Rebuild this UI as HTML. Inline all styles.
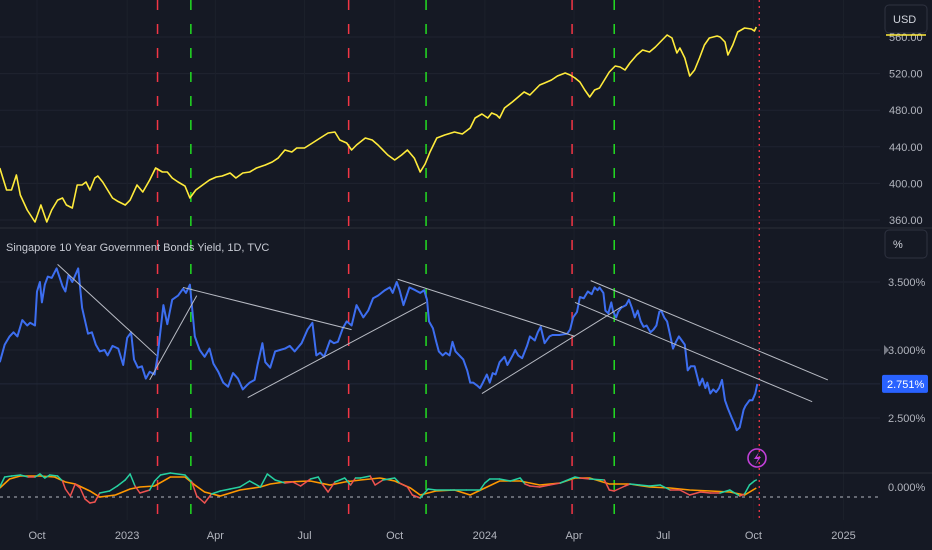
<!DOCTYPE html>
<html><head><meta charset="utf-8"><style>
html,body{margin:0;padding:0;background:#151924;}
svg{display:block;font-family:"Liberation Sans",sans-serif;}
</style></head><body>
<svg id="chart" width="932" height="550" viewBox="0 0 932 550" xmlns="http://www.w3.org/2000/svg">
<rect x="0" y="0" width="932" height="550" fill="#151924"/>
<g id="grid"></g>
<g id="vlines"></g>
<g id="series"></g>
<g id="axes"></g>
<text x="6" y="251" font-size="11" fill="#c8cbd4">Singapore 10 Year Government Bonds Yield, 1D, TVC</text>
<g><rect x="885" y="5" width="42" height="28" rx="4" fill="#151924" stroke="#2e3240"/><text x="893" y="23" font-size="11" fill="#d1d4dc">USD</text></g>
<g><rect x="885" y="230" width="42" height="28" rx="4" fill="#151924" stroke="#2e3240"/><text x="893" y="248" font-size="11" fill="#d1d4dc">%</text></g>
<g><circle cx="757" cy="458" r="9" fill="none" stroke="#c040d8" stroke-width="1.6"/><path d="M759 452 L754 459 L758 459 L755 465 L761 457 L757 457 Z" fill="#c040d8"/></g>
</svg>
<script>
// ---- price (upper pane) ----
const priceDays=[-38,-31,-26,-21,-17,-10,-2,4,10,15,21,26,30,36,41,46,50,54,59,62,67,72,77,82,90,95,102,108,115,121,128,133,138,144,151,156,162,169,176,183,189,197,203,210,217,224,233,240,246,253,260,265,273,281,289,297,304,309,316,321,326,335,342,348,358,365,372,378,385,391,396,401,408,416,426,434,442,447,454,460,464,469,472,477,485,491,497,503,508,513,518,525,531,539,544,549,554,559,564,569,574,579,584,590,595,600,605,612,618,625,631,638,643,648,653,656,661,666,671,676,681,686,694,697,702,705,710,715,722,729,732,734];
const priceValues=[416.8,392.8,392.8,409.2,387.3,370.9,357.8,376.4,357.8,370.9,381.8,384.0,376.4,373.1,398.2,398.2,401.5,392.8,405.9,408.1,401.5,392.8,384.0,380.7,376.4,381.8,398.2,390.6,403.7,416.8,412.5,412.5,405.9,401.5,397.1,384.0,392.8,398.2,403.7,407.0,408.1,411.4,405.9,411.4,412.5,416.8,420.1,423.4,427.7,436.5,434.3,438.7,438.7,444.1,449.6,455.1,456.2,447.4,444.1,436.5,442.0,449.6,447.4,442.0,431.0,425.6,431.0,436.5,427.7,412.5,421.2,434.3,449.6,452.9,456.2,454.0,460.5,471.5,475.8,471.5,476.9,474.7,471.5,482.4,489.0,494.4,499.9,496.6,502.1,507.5,509.7,513.0,517.4,520.7,518.5,515.2,510.8,502.1,494.4,502.1,504.3,513.0,521.7,528.3,527.2,523.9,531.6,540.3,545.8,543.6,549.1,556.7,562.2,558.9,542.5,548.0,537.0,517.4,523.9,537.0,551.3,558.9,561.1,560.0,554.5,540.3,551.3,565.5,569.8,568.7,566.6,570.9];
const priceTicks=[560,520,480,440,400,360];
// ---- yield (middle pane) ----
const yieldDays=[-38,-33,-28,-24,-20,-15,-10,-7,-2,0,3,5,8,11,15,20,26,29,32,36,42,46,52,56,60,64,69,72,77,83,88,92,96,99,103,107,111,115,120,123,129,133,138,144,149,152,156,161,166,171,176,180,185,190,195,200,205,210,214,217,222,225,230,233,238,243,248,253,258,263,270,276,281,285,289,293,299,303,307,312,316,321,326,333,338,343,348,355,360,363,367,370,374,380,386,391,395,398,400,404,407,410,414,417,421,424,427,431,435,439,442,445,449,452,455,459,462,465,468,472,477,480,486,488,491,495,500,503,508,511,514,518,523,526,530,533,541,544,547,551,554,558,562,566,569,572,574,578,580,583,586,588,591,593,596,601,604,607,610,613,616,619,622,626,629,632,635,637,640,643,646,649,652,655,658,661,664,667,671,676,679,682,684,687,690,693,696,699,702,705,709,712,714,717,721,723,727,730,733,735];
const yieldValues=[2.91,3.04,3.10,3.13,3.10,3.22,3.18,3.20,3.18,3.43,3.50,3.35,3.48,3.54,3.53,3.60,3.47,3.43,3.55,3.50,3.60,3.31,3.12,3.13,3.04,2.99,3.00,2.96,3.03,3.01,2.89,3.09,3.13,2.93,2.87,2.88,2.79,2.84,2.82,2.95,3.33,3.19,3.37,3.40,3.45,3.42,3.48,3.10,3.00,2.95,3.01,2.90,2.84,2.76,2.73,2.83,2.79,2.71,2.74,2.76,2.78,2.89,3.05,2.91,2.87,2.99,3.00,3.01,3.03,2.99,3.05,3.15,3.20,2.96,2.98,2.95,3.07,3.05,3.06,3.16,3.21,3.18,3.33,3.24,3.29,3.38,3.40,3.44,3.46,3.42,3.50,3.44,3.33,3.46,3.44,3.42,3.44,3.37,3.21,3.16,3.07,2.99,2.96,2.98,2.96,3.06,2.99,2.96,2.93,2.85,2.76,2.76,2.74,2.72,2.76,2.82,2.76,2.83,2.82,2.91,2.95,2.89,2.97,3.00,2.96,2.94,3.03,3.10,3.07,3.13,3.17,3.05,3.10,3.11,3.11,3.11,3.12,3.15,3.24,3.28,3.39,3.38,3.43,3.41,3.46,3.44,3.46,3.42,3.29,3.27,3.35,3.28,3.24,3.28,3.31,3.33,3.37,3.31,3.24,3.29,3.21,3.17,3.18,3.13,3.15,3.18,3.28,3.29,3.24,3.21,3.11,3.01,3.06,3.10,3.07,3.04,2.85,2.88,2.88,2.74,2.79,2.72,2.76,2.68,2.71,2.69,2.72,2.78,2.63,2.57,2.50,2.45,2.41,2.43,2.56,2.59,2.63,2.63,2.68,2.75];
const yieldTicks=[3.5,3.0,2.5];
const yieldTickLabels=["3.500%","3.000%","2.500%"];
const lastYield=2.751;
// trend lines: [startDay, startYield, endDay, endYield]
const trendStartDays=[21,115,149,215,368,454,565,549];
const trendStartVals=[3.63,2.78,3.46,2.65,3.52,2.68,3.51,3.35];
const trendEndDays=[122,163,321,397,549,597,807,791];
const trendEndVals=[2.96,3.40,3.15,3.35,3.10,3.32,2.78,2.62];
// ---- oscillator (lower pane) ----
const fastDays=[-38,-33,-26,-17,-9,-2,3,8,13,21,26,29,34,39,44,49,54,59,64,74,82,90,95,100,105,115,120,126,136,151,158,163,171,178,187,197,207,217,228,235,243,253,261,269,279,287,291,297,304,314,320,325,330,340,345,353,365,370,378,383,391,399,407,422,438,452,457,462,472,483,493,498,503,513,523,534,544,549,554,564,579,584,589,600,605,615,625,636,646,656,666,677,687,697,707,717,722,727,732,734];
const fastValues=[0,1.0,1.1,1.2,1.0,1.0,1.3,0.9,1.2,1.1,0.6,-0.2,-0.9,0.3,-0.1,-1.2,-1.6,-1.5,-0.6,-0.4,0.1,0.7,1.3,0.1,-0.6,-0.3,0.6,1.2,1.4,1.2,0.5,-0.9,-1.6,-0.7,-0.4,-0.2,0,0.6,0,1.3,0.7,0.4,0.5,0.1,0.8,1.0,0.3,-0.5,0.5,0.9,0.2,0.9,0.9,1.1,0.2,0.7,0.9,0.4,0,-0.8,-1.1,-0.2,-0.3,-0.3,-0.3,-0.3,0.4,0.8,0.8,0.6,0.9,0.3,0.1,0,0.2,0.4,0.8,1.0,0.9,0.8,0.7,-0.3,-0.4,0.1,0.3,0.2,0.1,0.2,-0.3,-0.3,-0.8,-0.5,-0.6,-0.6,-0.3,-0.9,-0.7,0.2,0.6,0.7];
const slowDays=[-38,-28,-17,3,18,29,39,54,64,80,95,105,120,136,151,161,171,187,207,228,238,253,279,299,314,330,350,365,381,391,407,426,442,457,472,493,513,534,549,564,584,605,625,646,666,687,707,722,734];
const slowValues=[-0.1,0.8,1.1,1.1,1.0,0.5,0.3,-0.4,-1.0,-0.8,-0.2,0,0.1,1.0,1.0,0.2,-0.5,-0.9,-0.3,0,0.3,0.5,0.6,0.2,0.5,0.7,0.9,0.6,-0.1,-0.8,-0.4,-0.3,-0.8,-0.1,0.6,0.6,0.2,0.4,0.9,0.9,0.3,0.3,0,-0.1,-0.3,-0.4,-0.5,-0.8,-0.1];
// ---- time axis & events ----
const monthLabels=["Oct","2023","Apr","Jul","Oct","2024","Apr","Jul","Oct","2025"];
const monthDays=[0,92,182,273,365,457,548,639,731,823];
const redEventDays=[123,318,546];
const greenEventDays=[157,397,589];
const todayDay=737;

const NS="http://www.w3.org/2000/svg";
const X=d=>37+d*0.98;
const YP=p=>37+(560-p)*0.915;
const YY=v=>282+(3.5-v)*136;
const YO=v=>487-v*10;
function mk(tag,attrs,parent,text){const e=document.createElementNS(NS,tag);for(const k in attrs)e.setAttribute(k,attrs[k]);if(text!==undefined)e.textContent=text;parent.appendChild(e);return e;}
const grid=document.getElementById('grid'),vl=document.getElementById('vlines'),ser=document.getElementById('series'),ax=document.getElementById('axes');

// grid
priceTicks.forEach(t=>{const l=mk('line',{x1:0,x2:880,y1:YP(t),y2:YP(t),stroke:'#1f2330','stroke-width':1},grid);

});
yieldTicks.forEach(t=>{const l=mk('line',{x1:0,x2:880,y1:YY(t),y2:YY(t),stroke:'#1f2330','stroke-width':1},grid);

});
monthDays.forEach(d=>{const l=mk('line',{x1:X(d),x2:X(d),y1:0,y2:520,stroke:'#1c202b','stroke-width':1},grid);

});
[228,473].forEach(y=>{const l=mk('line',{x1:0,x2:932,y1:y,y2:y,stroke:'#2a2e39','stroke-width':1},grid);

});
{const l=mk('line',{x1:0,x2:880,y1:YY(lastYield),y2:YY(lastYield),stroke:'#232839','stroke-width':1},grid);

}

// event lines
redEventDays.forEach(d=>{const l=mk('line',{x1:X(d),x2:X(d),y1:0,y2:515,stroke:'#f23645','stroke-width':1.5,'stroke-dasharray':'10 14'},vl);

});
greenEventDays.forEach(d=>{const l=mk('line',{x1:X(d),x2:X(d),y1:0,y2:515,stroke:'#22dd22','stroke-width':1.5,'stroke-dasharray':'10 14'},vl);

});
{const l=mk('line',{x1:X(todayDay),x2:X(todayDay),y1:0,y2:522,stroke:'#f23645','stroke-width':1.3,'stroke-dasharray':'2 4'},vl);

}

// dotted baseline in oscillator
{const l=mk('line',{x1:0,x2:880,y1:YO(-1),y2:YO(-1),stroke:'#9598a1','stroke-width':1.2,'stroke-dasharray':'3 4'},ser);

}

// price line
{const d=priceDays.map((t,i)=>(i?'L':'M')+X(t).toFixed(1)+' '+YP(priceValues[i]).toFixed(1)).join(' ');
const p=mk('path',{d:d,fill:'none',stroke:'#ffeb3b','stroke-width':1.6,'stroke-linejoin':'round'},ser);

}
// yield line
{const d=yieldDays.map((t,i)=>(i?'L':'M')+X(t).toFixed(1)+' '+YY(yieldValues[i]).toFixed(1)).join(' ');
const p=mk('path',{d:d,fill:'none',stroke:'#3d6ef0','stroke-width':2,'stroke-linejoin':'round'},ser);

}
// trend lines
trendStartDays.forEach((d,i)=>{const l=mk('line',{x1:X(d),y1:YY(trendStartVals[i]),x2:X(trendEndDays[i]),y2:YY(trendEndVals[i]),stroke:'#b8bbc4','stroke-width':1},ser);

});
// slow line
{const d=slowDays.map((t,i)=>(i?'L':'M')+X(t).toFixed(1)+' '+YO(slowValues[i]).toFixed(1)).join(' ');
const p=mk('path',{d:d,fill:'none',stroke:'#ff9800','stroke-width':1.6},ser);

}
// fast line segments colored
function slowAt(t){for(let i=1;i<slowDays.length;i++){if(t<=slowDays[i]){const a=slowDays[i-1],b=slowDays[i];const f=(t-a)/(b-a);return slowValues[i-1]+(slowValues[i]-slowValues[i-1])*f;}}return slowValues[slowValues.length-1];}
for(let i=1;i<fastDays.length;i++){const mid=(fastValues[i]+fastValues[i-1])/2,md=(fastDays[i]+fastDays[i-1])/2;
const col=mid>=slowAt(md)?'#26d0a0':'#ef5350';
const l=mk('line',{x1:X(fastDays[i-1]),y1:YO(fastValues[i-1]),x2:X(fastDays[i]),y2:YO(fastValues[i]),stroke:col,'stroke-width':1.5,'stroke-linecap':'round'},ser);

}

// axes labels
priceTicks.forEach(t=>{const e=mk('text',{x:889,y:YP(t)+4,'font-size':11,fill:'#b2b5be'},ax,t.toFixed(2));

});
{const l=mk('line',{x1:886,x2:926,y1:35,y2:35,stroke:'#ffeb3b','stroke-width':1.5},ax);

}
yieldTicks.forEach((t,i)=>{const e=mk('text',{x:888,y:YY(t)+4,'font-size':11,fill:'#b2b5be'},ax,yieldTickLabels[i]);

});
{const e=mk('text',{x:888,y:491,'font-size':11,fill:'#b2b5be'},ax,'0.000%');

}
{const g=mk('g',{},ax);


mk('rect',{x:882,y:YY(lastYield)-9,width:46,height:18,rx:2,fill:'#2962ff'},g);
mk('text',{x:887,y:YY(lastYield)+4,'font-size':11,fill:'#ffffff'},g,lastYield.toFixed(3)+'%');}
{const p=mk('path',{d:'M884 345 L889 350 L884 355 Z',fill:'#787b86'},ax);

}
monthLabels.forEach((m,i)=>{const e=mk('text',{x:X(monthDays[i]),y:539,'font-size':11,fill:'#b2b5be','text-anchor':'middle'},ax,m);

});
</script>
</body></html>
